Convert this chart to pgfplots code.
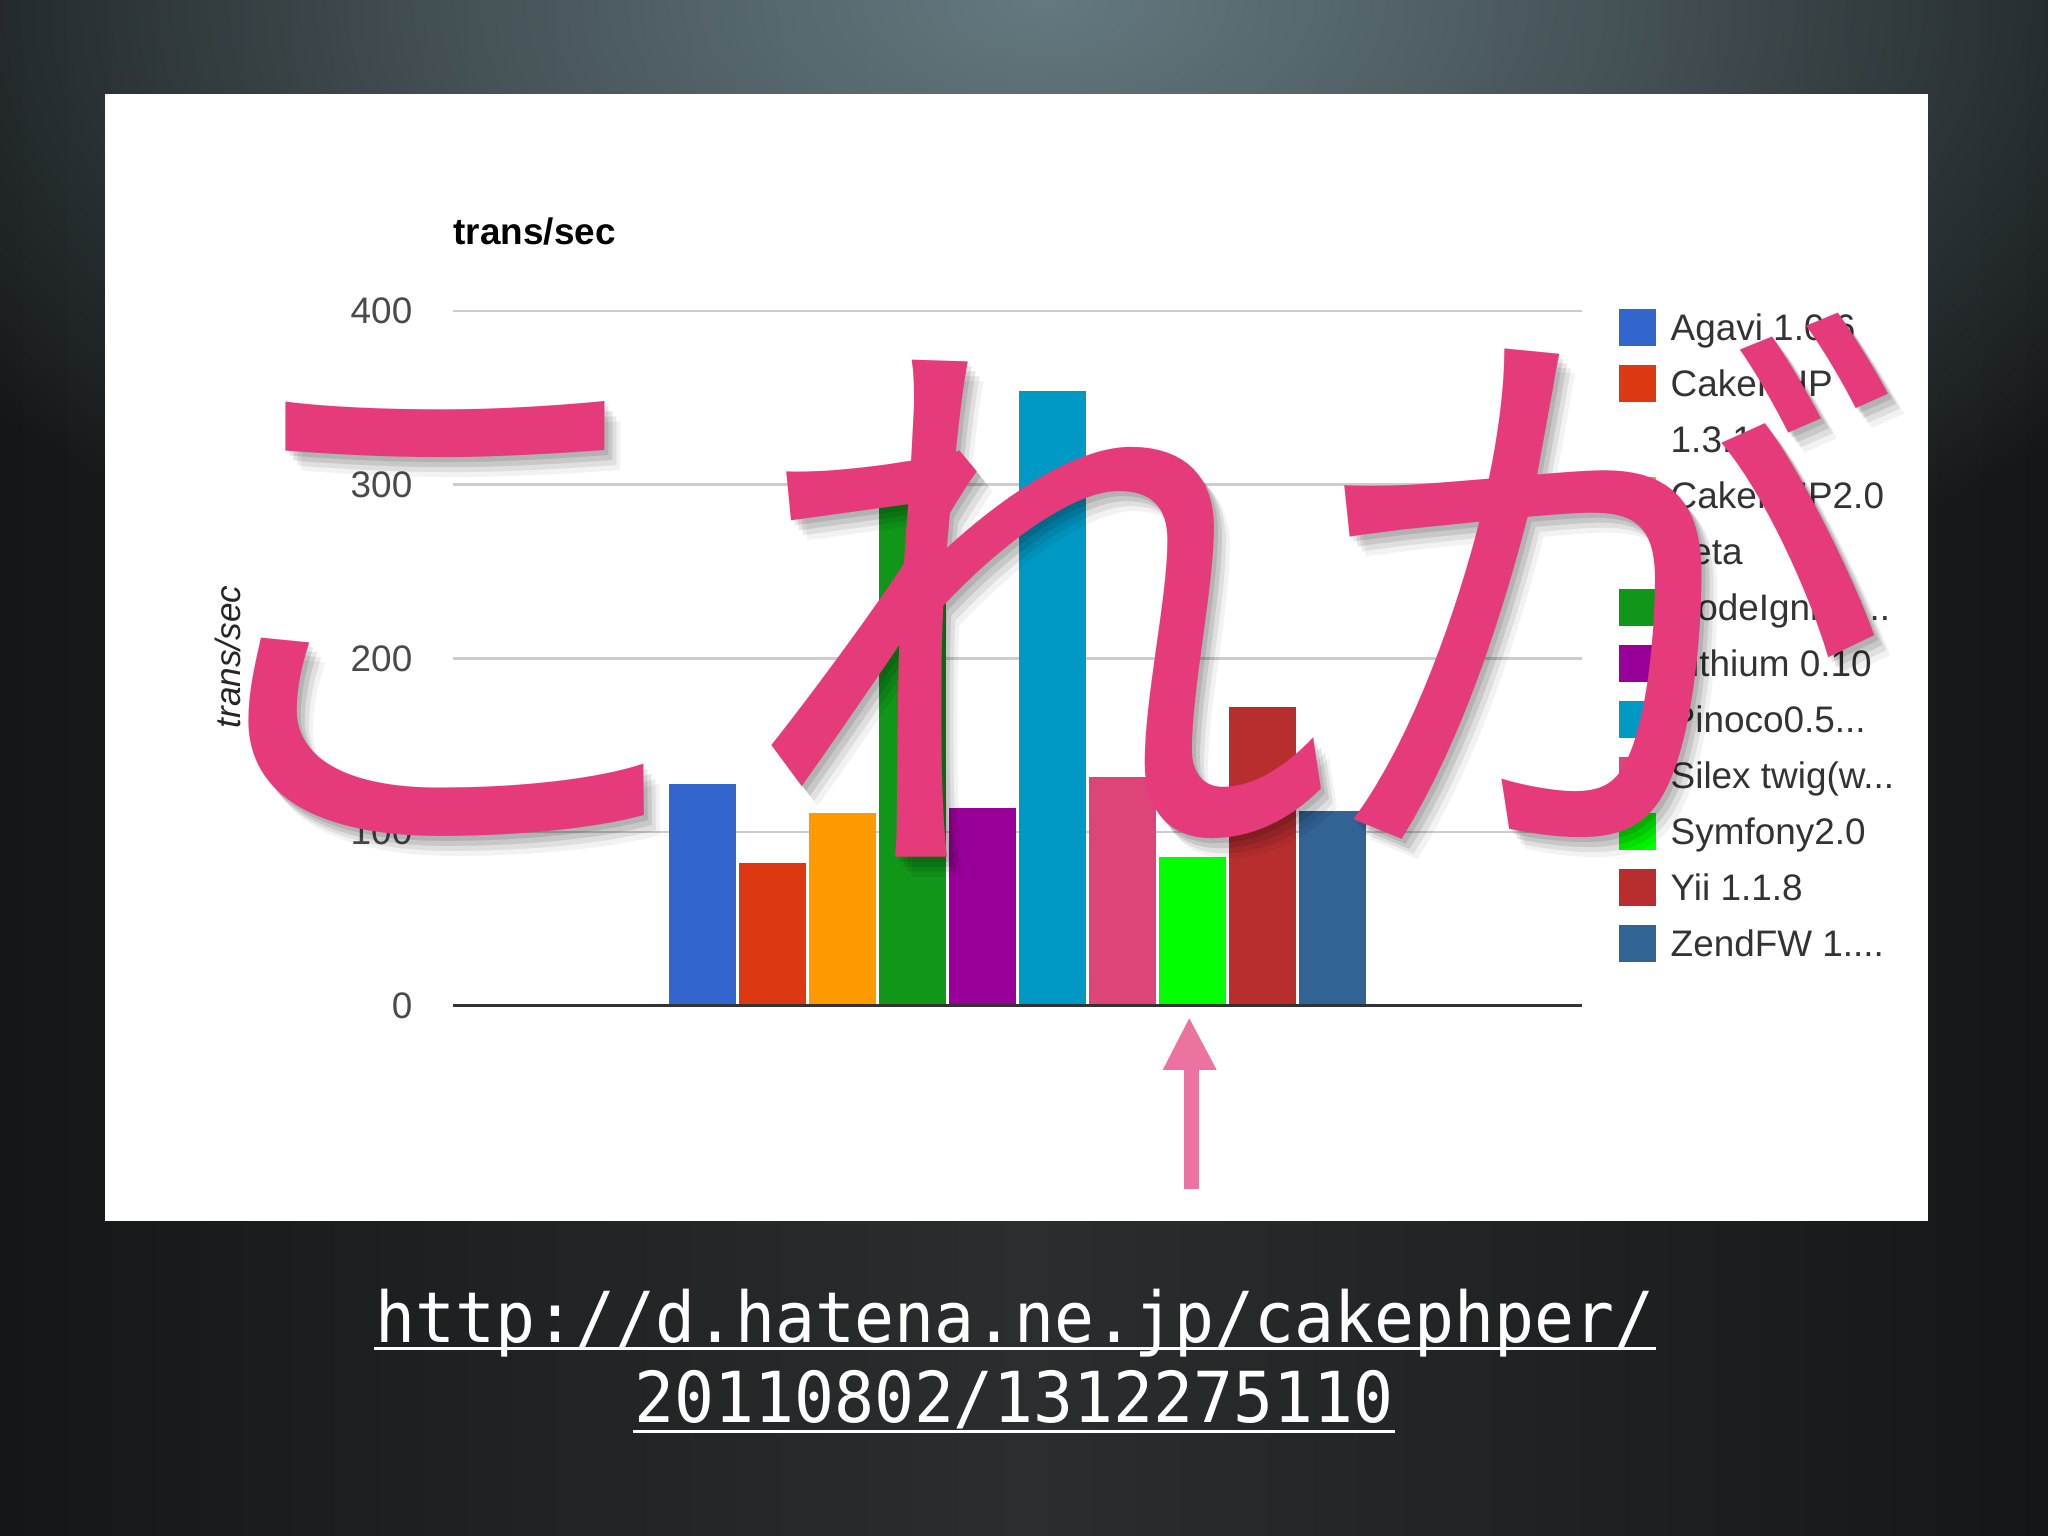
\documentclass[border=0pt]{standalone}
\usepackage{fontspec}
\setmainfont{Liberation Sans}
\newfontfamily\jpfont{Noto Sans CJK JP}
\newfontfamily\urlfont[FakeStretch=0.945]{DejaVu Sans Mono}
\usepackage{pgfplots}
\pgfplotsset{compat=1.18}
\usetikzlibrary{fadings}
\definecolor{bgEdge}{HTML}{141718}
\definecolor{bgMid}{HTML}{2B2E2F}
\definecolor{bgTop}{HTML}{647980}
\definecolor{cA}{HTML}{3366CC}
\definecolor{cB}{HTML}{DC3912}
\definecolor{cC}{HTML}{FF9900}
\definecolor{cD}{HTML}{109618}
\definecolor{cE}{HTML}{990099}
\definecolor{cF}{HTML}{0099C6}
\definecolor{cG}{HTML}{DD4477}
\definecolor{cH}{HTML}{00FF00}
\definecolor{cI}{HTML}{B82E2E}
\definecolor{cJ}{HTML}{316395}
\definecolor{pinkjp}{HTML}{E53B7A}
\definecolor{pinkarrow}{HTML}{EC72A0}
\definecolor{gridc}{HTML}{CCCCCC}
\definecolor{basec}{HTML}{333333}
\definecolor{tickc}{HTML}{4A4A4A}
\definecolor{legc}{HTML}{333333}
\tikzfading[name=spot, inner color=transparent!0, outer color=transparent!100]
\pgfplotsset{
  bst/.style 2 args={ybar, bar width=6.7mm, bar shift=#2, fill=#1, draw=none,
    legend image code/.code={\fill[#1] (0mm,-1.85mm) rectangle (3.7mm,1.85mm);}},
}
\newcommand\jp{\jpfont\fontsize{170}{170}\selectfont}
\begin{document}
\begin{tikzpicture}
\useasboundingbox (0,0) rectangle (20.48,15.36);
\shade[left color=bgEdge, right color=bgEdge, middle color=bgMid] (0,0) rectangle (20.48,15.36);
\fill[bgTop, path fading=spot] (10.45,15.36) ellipse (13 and 7);
\fill[white] (1.045,3.15) rectangle (19.28,14.42);
\begin{axis}[
  at={(4.53cm,5.30cm)}, anchor=south west,
  scale only axis, width=11.29cm, height=6.95cm,
  xmin=-1, xmax=1, ymin=0, ymax=400,
  xtick=\empty, ytick={0,100,200,300,400},
  ymajorgrids, grid style={gridc, line width=0.25mm},
  axis line style={draw=none}, major tick length=0pt,
  /pgf/number format/assume math mode=true,
  yticklabel style={font=\fontsize{10.5}{12}\selectfont, text=tickc, inner sep=0pt, xshift=-4mm},
  title={trans/sec},
  every axis title shift=0pt,
  title style={at={(axis description cs:0,1.095)}, anchor=base west, yshift=0pt, inner sep=0pt, font=\bfseries\fontsize{10.5}{12}\selectfont},
  ylabel={trans/sec},
  ylabel style={at={(axis description cs:-0.1993,0.502)}, anchor=center, inner sep=0pt, font=\itshape\fontsize{10}{12}\selectfont, text=black!85},
  legend cell align=left,
  legend style={at={(axis description cs:1.0319,1.0050)}, anchor=north west, draw=none, fill=none,
    inner sep=0pt, row sep=1.8mm, font=\fontsize{10.5}{12}\selectfont, text=legc,
    nodes={inner sep=0pt, text height=3.2mm, text depth=0.6mm},
    /tikz/every odd column/.append style={column sep=1.5mm}},
  clip=false,
]
\addplot[bst={cA}{-31.47mm}] coordinates {(0,128)};
\addlegendentry{Agavi 1.0.6}
\addplot[bst={cB}{-24.48mm}] coordinates {(0,82.5)};
\addlegendentry{CakePHP}
\addlegendimage{empty legend}
\addlegendentry{1.3.11}
\addplot[bst={cC}{-17.48mm}] coordinates {(0,111)};
\addlegendentry{CakePHP2.0}
\addlegendimage{empty legend}
\addlegendentry{beta}
\addplot[bst={cD}{-10.49mm}] coordinates {(0,300)};
\addlegendentry{CodeIgniter...}
\addplot[bst={cE}{-3.50mm}] coordinates {(0,114)};
\addlegendentry{Lithium 0.10}
\addplot[bst={cF}{3.50mm}] coordinates {(0,354)};
\addlegendentry{Pinoco0.5...}
\addplot[bst={cG}{10.49mm}] coordinates {(0,132)};
\addlegendentry{Silex twig(w...}
\addplot[bst={cH}{17.48mm}] coordinates {(0,85.5)};
\addlegendentry{Symfony2.0}
\addplot[bst={cI}{24.48mm}] coordinates {(0,172)};
\addlegendentry{Yii 1.1.8}
\addplot[bst={cJ}{31.47mm}] coordinates {(0,112)};
\addlegendentry{ZendFW 1....}
\draw[basec, line width=0.3mm] (axis cs:-1,0) -- (axis cs:1,0);
\end{axis}
% big overlay text with soft shadow
\foreach \dx/\dy/\op in {0.04/-0.05/0.10, 0.08/-0.10/0.10, 0.12/-0.15/0.08, 0.16/-0.20/0.05}{
  \node[anchor=base, inner sep=0pt, text=black, opacity=\op] at (4.44+\dx,7.14+\dy) {\jp こ};
  \node[anchor=base, inner sep=0pt, text=black, opacity=\op] at (10.385+\dx,7.01+\dy) {\jp れ};
  \node[anchor=base, inner sep=0pt, text=black, opacity=\op] at (16.05+\dx,7.17+\dy) {\jp が};
}
\node[anchor=base, inner sep=0pt, text=pinkjp] at (4.44,7.14) {\jp こ};
\node[anchor=base, inner sep=0pt, text=pinkjp] at (10.385,7.01) {\jp れ};
\node[anchor=base, inner sep=0pt, text=pinkjp] at (16.05,7.17) {\jp が};
% arrow
\fill[pinkarrow] (11.84,3.47) rectangle (11.987,4.68);
\fill[pinkarrow] (11.893,5.177) -- (11.627,4.66) -- (12.167,4.66) -- cycle;
% url
\node[anchor=base, inner sep=0pt, text=white] (u1) at (10.15,1.93) {\urlfont\fontsize{20}{24}\selectfont http://d.hatena.ne.jp/cakephper/};
\node[anchor=base, inner sep=0pt, text=white] (u2) at (10.14,1.13) {\urlfont\fontsize{20}{24}\selectfont 20110802/1312275110};
\draw[white, line width=0.3mm] ([yshift=-0.6mm]u1.base west) -- ([yshift=-0.6mm]u1.base east);
\draw[white, line width=0.3mm] ([yshift=-0.9mm]u2.base west) -- ([yshift=-0.9mm]u2.base east);
\end{tikzpicture}
\end{document}
